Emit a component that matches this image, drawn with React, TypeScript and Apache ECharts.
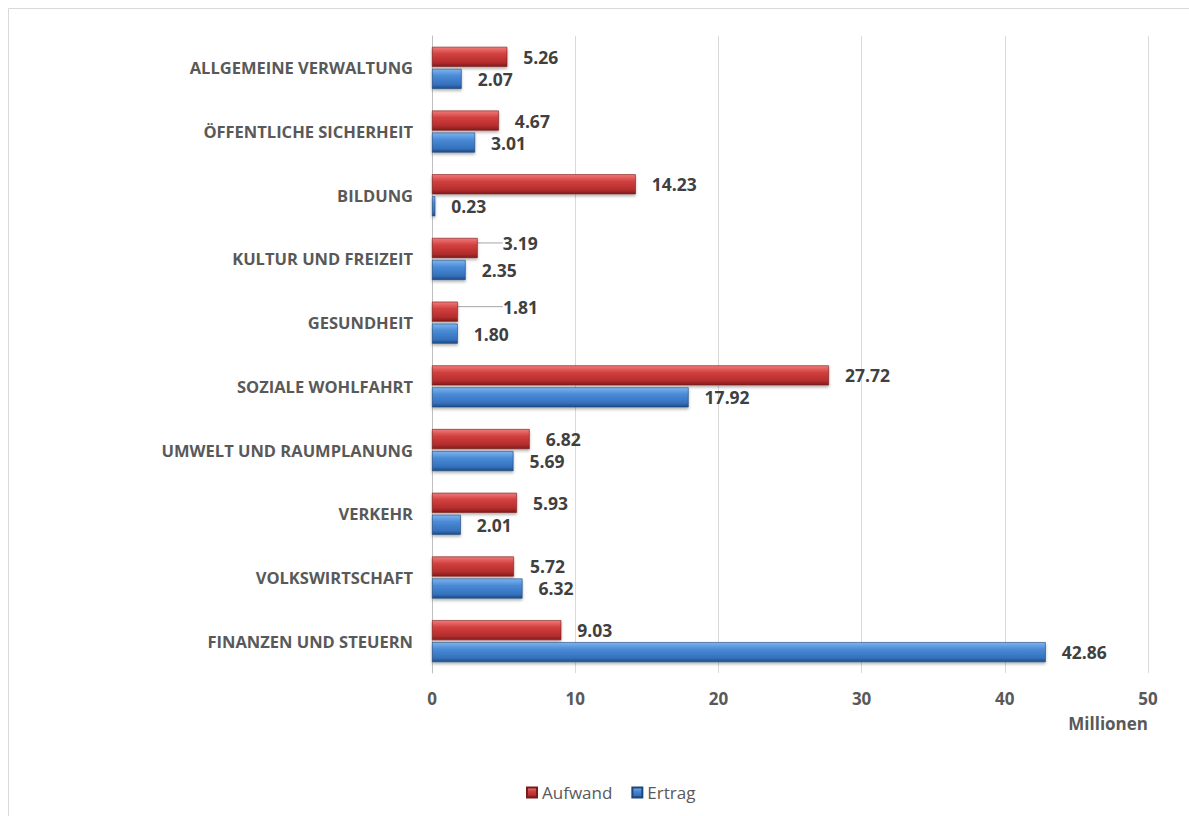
import React, { useEffect, useRef } from "react";
import * as echarts from "echarts";

const categories = [
  "ALLGEMEINE VERWALTUNG",
  "ÖFFENTLICHE SICHERHEIT",
  "BILDUNG",
  "KULTUR UND FREIZEIT",
  "GESUNDHEIT",
  "SOZIALE WOHLFAHRT",
  "UMWELT UND RAUMPLANUNG",
  "VERKEHR",
  "VOLKSWIRTSCHAFT",
  "FINANZEN UND STEUERN",
];
const aufwand = [5.26, 4.67, 14.23, 3.19, 1.81, 27.72, 6.82, 5.93, 5.72, 9.03];
const ertrag = [2.07, 3.01, 0.23, 2.35, 1.8, 17.92, 5.69, 2.01, 6.32, 42.86];
const seriesNames = ["Aufwand", "Ertrag"];
const axisUnit = "Millionen";

const FONT = "'Open Sans', 'Liberation Sans', sans-serif";
const TEXT = "#595959";

// Excel moved these Aufwand labels away from their bars (drawn with leader lines)
const movedLabelShift: Record<number, [number, number]> = {
  3: [9, -5],
  4: [29, -5],
};

export default function App() {
  const ref = useRef<HTMLDivElement>(null);
  useEffect(() => {
    if (!ref.current) return;
    const chart = echarts.init(ref.current, undefined, { renderer: "svg" });
    const redGrad = new echarts.graphic.LinearGradient(0, 0, 0, 1, [
      { offset: 0, color: "#ef7b79" },
      { offset: 0.35, color: "#d2403f" },
      { offset: 0.8, color: "#b32c2c" },
      { offset: 1, color: "#7e1b1b" },
    ]);
    const blueGrad = new echarts.graphic.LinearGradient(0, 0, 0, 1, [
      { offset: 0, color: "#7db4ee" },
      { offset: 0.35, color: "#4a8ad6" },
      { offset: 0.8, color: "#3571bd" },
      { offset: 1, color: "#1f4b85" },
    ]);
    const labelCommon = {
      show: true,
      position: "right" as const,
      distance: 16,
      fontFamily: FONT,
      fontWeight: "bold" as const,
      fontSize: 17.5,
      color: "#404040",
      formatter: (p: any) => Number(p.value).toFixed(2),
    };
    const aufwandData = aufwand.map((v, i) =>
      movedLabelShift[i]
        ? { value: v, labelLine: { show: true, lineStyle: { color: "#a6a6a6", width: 1 } } }
        : { value: v }
    );
    chart.setOption({
      animation: false,
      backgroundColor: "#ffffff",
      textStyle: { fontFamily: FONT },
      graphic: [
        {
          type: "polyline",
          shape: { points: [[8.5, 830], [8.5, 8.5], [1200, 8.5]] },
          style: { stroke: "#d9d9d9", lineWidth: 1, fill: null },
          silent: true,
        },
      ],
      grid: { left: 432, right: 41, top: 36, bottom: 143, containLabel: false },
      legend: {
        bottom: 10,
        left: 521,
        itemWidth: 10,
        itemHeight: 10,
        itemGap: 19,
        icon: "rect",
        textStyle: { fontFamily: FONT, fontSize: 17, color: TEXT },
        data: seriesNames,
      },
      xAxis: {
        type: "value",
        min: 0,
        max: 50,
        interval: 10,
        name: axisUnit,
        nameLocation: "end",
        nameGap: 0,
        nameTextStyle: {
          fontFamily: FONT,
          fontWeight: "bold",
          fontSize: 17,
          color: TEXT,
          align: "right",
          verticalAlign: "top",
          padding: [42, 0, 0, 0],
        },
        axisLine: { show: false },
        axisTick: { show: false },
        axisLabel: {
          margin: 17,
          fontFamily: FONT,
          fontWeight: "bold",
          fontSize: 17,
          color: TEXT,
        },
        splitLine: { show: true, lineStyle: { color: "#d9d9d9", width: 1 } },
      },
      yAxis: {
        type: "category",
        inverse: true,
        data: categories,
        axisLine: { show: true, lineStyle: { color: "#bfbfbf" } },
        axisTick: { show: false },
        axisLabel: {
          margin: 19,
          fontFamily: FONT,
          fontWeight: "bold",
          fontSize: 16.5,
          color: TEXT,
        },
      },
      series: [
        {
          name: seriesNames[0],
          type: "bar",
          data: aufwandData,
          barWidth: 20,
          barGap: "10%",
          itemStyle: {
            color: redGrad,
            borderColor: "#7a1a1a",
            borderWidth: 0.6,
            shadowColor: "rgba(0,0,0,0.3)",
            shadowBlur: 3,
            shadowOffsetY: 2,
          },
          label: labelCommon,
          labelLine: { show: false },
          labelLayout: (p: any) => {
            const s = movedLabelShift[p.dataIndex];
            return s ? { dx: s[0], dy: s[1] } : {};
          },
        },
        {
          name: seriesNames[1],
          type: "bar",
          data: ertrag,
          barWidth: 20,
          barGap: "10%",
          itemStyle: {
            color: blueGrad,
            borderColor: "#1d4779",
            borderWidth: 0.6,
            shadowColor: "rgba(0,0,0,0.3)",
            shadowBlur: 3,
            shadowOffsetY: 2,
          },
          label: labelCommon,
        },
      ],
    });
    return () => chart.dispose();
  }, []);
  return (
    <div
      ref={ref}
      style={{ position: "fixed", left: 0, top: 0, width: 1189, height: 816 }}
    />
  );
}
